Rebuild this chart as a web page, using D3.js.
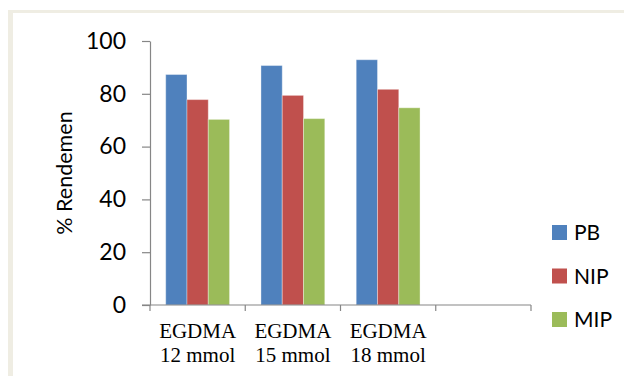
<!DOCTYPE html>
<html>
<head>
<meta charset="utf-8">
<script src="https://cdn.jsdelivr.net/npm/d3@7"></script>
<style>
  html, body { margin: 0; padding: 0; background: #fff; }
  svg { display: block; }
</style>
</head>
<body>
<svg id="chart" width="624" height="376"></svg>
<script>
// ---- data ----
const categories = [["EGDMA", "12 mmol"], ["EGDMA", "15 mmol"], ["EGDMA", "18 mmol"], ["", ""]];
const series = ["PB", "NIP", "MIP"];
const valuesPB  = [87.3, 90.7, 92.9];
const valuesNIP = [77.8, 79.4, 81.7];
const valuesMIP = [70.3, 70.6, 74.7];
const yTicks = [0, 20, 40, 60, 80, 100];
const yLabel = "% Rendemen";
const colors = ["#4f81bd", "#c0504d", "#9bbb59"];

const seriesValues = [valuesPB, valuesNIP, valuesMIP];
const catKeys = categories.map((c, i) => "c" + i);

const svg = d3.select("#chart");

// frame (beige border on left and top)
svg.append("rect").attr("x", 8).attr("y", 10).attr("width", 616).attr("height", 3).attr("fill", "#efede3");
svg.append("rect").attr("x", 8).attr("y", 10).attr("width", 5).attr("height", 366).attr("fill", "#efede3");

const pLeft = 150, pRight = 531, pTop = 41, pBottom = 305;

const x = d3.scaleBand().domain(catKeys).range([pLeft, pRight]).padding(0);
const bw = x.bandwidth();
const x1 = d3.scaleBand().domain(series).range([bw * 0.165, bw * 0.835]).padding(0);
const y = d3.scaleLinear().domain([0, 100]).range([pBottom, pTop]);
const color = d3.scaleOrdinal().domain(series).range(colors);

// bars
series.forEach((s, si) => {
  svg.append("g").selectAll("rect")
    .data(seriesValues[si])
    .join("rect")
    .attr("x", (d, i) => x(catKeys[i]) + x1(s))
    .attr("y", d => y(d))
    .attr("width", x1.bandwidth())
    .attr("height", d => y(0) - y(d))
    .attr("fill", color(s))
    .attr("stroke", "rgba(255,255,255,0.35)")
    .attr("stroke-width", 1);
});

// y axis
const yAxis = svg.append("g")
  .attr("transform", `translate(${pLeft},0)`)
  .call(d3.axisLeft(y).tickValues(yTicks).tickSize(8).tickSizeOuter(0).tickPadding(16));
yAxis.select(".domain").attr("stroke", "#868686").attr("stroke-width", 1.2);
yAxis.selectAll(".tick line").attr("stroke", "#868686").attr("stroke-width", 1.2);
yAxis.selectAll(".tick text")
  .attr("font-family", "Lato, 'Open Sans', sans-serif")
  .attr("font-size", 23).attr("fill", "#000");

// x axis: line and ticks at band boundaries
const xg = svg.append("g");
xg.append("line").attr("x1", pLeft - 8).attr("x2", pRight).attr("y1", pBottom).attr("y2", pBottom)
  .attr("stroke", "#868686").attr("stroke-width", 1.2);
const bounds = catKeys.map(k => x(k)).concat([x.range()[1]]);
xg.selectAll("line.tk").data(bounds).join("line").attr("class", "tk")
  .attr("x1", d => d).attr("x2", d => d).attr("y1", pBottom).attr("y2", pBottom + 6)
  .attr("stroke", "#868686").attr("stroke-width", 1.2);

const labels = xg.selectAll("text.xl").data(categories).join("text").attr("class", "xl")
  .attr("x", (d, i) => x(catKeys[i]) + bw / 2)
  .attr("y", 338)
  .attr("text-anchor", "middle")
  .attr("font-family", "'Liberation Serif', 'Times New Roman', serif")
  .attr("font-size", 21).attr("fill", "#000");
labels.each(function(d, i) {
  const t = d3.select(this);
  t.append("tspan").attr("x", x(catKeys[i]) + bw / 2).attr("dy", 0).text(d[0]);
  t.append("tspan").attr("x", x(catKeys[i]) + bw / 2).attr("dy", 24).text(d[1]);
});

// y label
svg.append("text")
  .attr("transform", `translate(72,173) rotate(-90)`)
  .attr("text-anchor", "middle")
  .attr("font-family", "Lato, 'Open Sans', sans-serif")
  .attr("font-size", 21.5).attr("fill", "#000")
  .text(yLabel);

// legend
const lg = svg.append("g").selectAll("g").data(series).join("g")
  .attr("transform", (d, i) => `translate(552,${225 + i * 43.5})`);
lg.append("rect").attr("width", 15).attr("height", 15).attr("fill", d => color(d));
lg.append("text").attr("x", 22).attr("y", 15)
  .attr("font-family", "Lato, 'Open Sans', sans-serif")
  .attr("font-size", 21).attr("fill", "#000")
  .text(d => d);
</script>
</body>
</html>
